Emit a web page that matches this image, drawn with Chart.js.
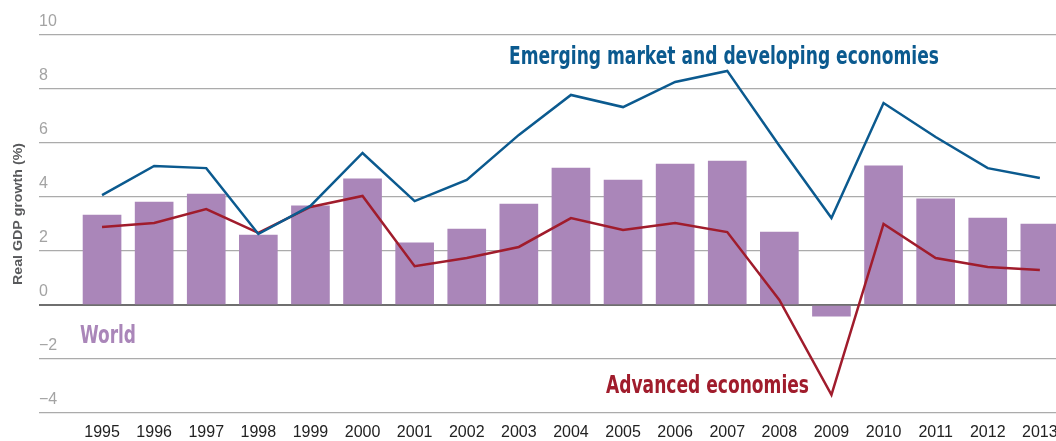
<!DOCTYPE html>
<html>
<head>
<meta charset="utf-8">
<script src="https://cdn.jsdelivr.net/npm/chart.js@4/dist/chart.umd.min.js"></script>
<style>
  html, body { margin: 0; padding: 0; background: #fff; overflow: hidden; }
  #wrap { width: 1056px; height: 441px; position: relative; }
</style>
</head>
<body>
<div id="wrap"><canvas id="gdp"></canvas></div>
<script>
// real GDP growth, %
var years = [1995, 1996, 1997, 1998, 1999, 2000, 2001, 2002, 2003, 2004,
             2005, 2006, 2007, 2008, 2009, 2010, 2011, 2012, 2013];
var world = [3.33, 3.81, 4.11, 2.59, 3.67, 4.67, 2.30, 2.81, 3.74, 5.07,
             4.63, 5.22, 5.33, 2.70, -0.41, 5.15, 3.93, 3.22, 3.00];
var emerging = [4.07, 5.15, 5.07, 2.63, 3.67, 5.63, 3.85, 4.63, 6.30, 7.78,
                7.33, 8.26, 8.67, 5.90, 3.22, 7.48, 6.22, 5.07, 4.70];
var advanced = [2.89, 3.04, 3.55, 2.67, 3.63, 4.04, 1.44, 1.74, 2.15, 3.22,
                2.78, 3.04, 2.70, 0.19, -3.33, 3.00, 1.74, 1.41, 1.30];
var yTicks = [-4, -2, 0, 2, 4, 6, 8, 10];

var purple = '#aa86b9';
var blue = '#0b5a8f';
var red = '#a01c2c';

function points(vals) {
    return years.map(function (yr, i) { return { x: yr, y: vals[i] }; });
}

// series names written straight on the plot
var seriesLabels = [
    { text: 'Emerging market and developing economies', color: blue, x: 509, y: 64, w: 430 },
    { text: 'Advanced economies', color: red, x: 606, y: 393, w: 203 },
    { text: 'World', color: purple, x: 80, y: 343, w: 56 }
];

var labelPlugin = {
    id: 'seriesLabels',
    afterDraw: function (chart) {
        var ctx = chart.ctx;
        seriesLabels.forEach(function (l) {
            ctx.save();
            ctx.font = "bold 25px 'Liberation Sans Narrow', 'DejaVu Sans Condensed', Roboto, sans-serif";
            var m = ctx.measureText(l.text).width;
            ctx.translate(l.x, l.y);
            ctx.scale(l.w / m, 1);
            ctx.fillStyle = l.color;
            ctx.textBaseline = 'alphabetic';
            ctx.fillText(l.text, 0, 0);
            ctx.restore();
        });
        // y axis title
        ctx.save();
        ctx.font = "bold 13px 'Liberation Sans', Arial, sans-serif";
        var t = 'Real GDP growth (%)';
        var tw = ctx.measureText(t).width;
        ctx.translate(18, 214);
        ctx.rotate(-Math.PI / 2);
        ctx.scale(142 / tw, 1);
        ctx.fillStyle = '#58595b';
        ctx.textAlign = 'center';
        ctx.textBaseline = 'middle';
        ctx.fillText(t, 0, 0);
        ctx.restore();
    }
};

var chart = new Chart(document.getElementById('gdp').getContext('2d'), {
    type: 'bar',
    data: {
        datasets: [{
            type: 'line',
            label: 'Emerging market and developing economies',
            data: points(emerging),
            borderColor: blue,
            borderWidth: 2.5,
            pointRadius: 0,
            tension: 0,
            order: 0
        }, {
            type: 'line',
            label: 'Advanced economies',
            data: points(advanced),
            borderColor: red,
            borderWidth: 2.5,
            pointRadius: 0,
            tension: 0,
            order: 1
        }, {
            label: 'World',
            data: points(world),
            backgroundColor: purple,
            barThickness: 38,
            order: 2
        }]
    },
    options: {
        responsive: true,
        maintainAspectRatio: false,
        animation: false,
        layout: { padding: { top: 35, right: 0, bottom: 0, left: 0 } },
        plugins: {
            legend: { display: false },
            tooltip: { enabled: false }
        },
        scales: {
            x: {
                type: 'linear',
                min: 1993.79,
                max: 2013.31,
                offset: false,
                grid: { display: false, drawTicks: false, offset: false },
                border: { display: false },
                afterFit: function (s) {
                    s.height = 28;
                    // let the last label run off the edge like the original
                    s.paddingLeft = 0;
                    s.paddingRight = 0;
                },
                ticks: {
                    stepSize: 1,
                    includeBounds: false,
                    autoSkip: false,
                    maxRotation: 0,
                    padding: 10,
                    color: '#222',
                    font: { family: "'Liberation Sans', Arial, sans-serif", size: 16 },
                    callback: function (v) {
                        return (Number.isInteger(v) && years.indexOf(v) >= 0) ? String(v) : '';
                    }
                }
            },
            y: {
                min: -4,
                max: 10,
                afterFit: function (s) {
                    s.width = 39;
                    s.paddingTop = 0;
                    s.paddingBottom = 0;
                },
                afterBuildTicks: function (s) {
                    s.ticks = yTicks.map(function (v) { return { value: v }; });
                },
                grid: {
                    drawTicks: false,
                    color: function (c) { return c.tick && c.tick.value === 0 ? '#6f6f6f' : '#ababab'; },
                    lineWidth: function (c) { return c.tick && c.tick.value === 0 ? 2 : 1.3; }
                },
                border: { display: false },
                ticks: {
                    mirror: true,
                    padding: 0,
                    labelOffset: -13,
                    color: '#a3a3a3',
                    font: { family: "'Liberation Sans', Arial, sans-serif", size: 16 },
                    callback: function (v) { return String(v).replace('-', '\u2212'); }
                }
            }
        }
    },
    plugins: [labelPlugin]
});
</script>
</body>
</html>
